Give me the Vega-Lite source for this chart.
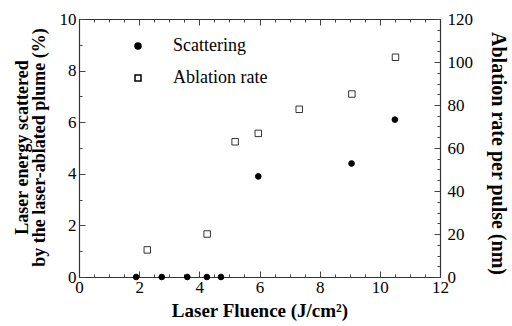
{
  "$schema": "https://vega.github.io/schema/vega-lite/v6.json",
  "width": 361,
  "height": 258,
  "autosize": {"type": "none"},
  "padding": {"left": 79, "top": 19, "right": 72, "bottom": 49},
  "background": "white",
  "config": {
    "view": {"stroke": null},
    "font": "Times New Roman",
    "axis": {
      "domainColor": "#333",
      "domainWidth": 1.2,
      "tickColor": "#444",
      "tickWidth": 1,
      "grid": false,
      "labelFont": "Times New Roman",
      "labelFontSize": 17,
      "labelColor": "black",
      "titleFont": "Times New Roman",
      "titleFontSize": 18,
      "titleFontWeight": "bold",
      "titleColor": "black"
    },
    "legend": {
      "labelFont": "Times New Roman"
    }
  },
  "datasets": {
    "scattering": [
      {"fluence": 1.9, "scatter": 0},
      {"fluence": 2.75, "scatter": 0},
      {"fluence": 3.6, "scatter": 0},
      {"fluence": 4.25, "scatter": 0},
      {"fluence": 4.72, "scatter": 0},
      {"fluence": 5.96, "scatter": 3.9},
      {"fluence": 9.06, "scatter": 4.4},
      {"fluence": 10.5, "scatter": 6.1}
    ],
    "ablation": [
      {"fluence": 2.27, "rate": 12.6},
      {"fluence": 4.26, "rate": 20},
      {"fluence": 5.19, "rate": 62.9},
      {"fluence": 5.96, "rate": 66.8},
      {"fluence": 7.32, "rate": 78},
      {"fluence": 9.07, "rate": 85.1},
      {"fluence": 10.52, "rate": 102.2}
    ]
  },
  "layer": [
    {
      "data": {"name": "scattering"},
      "mark": {"type": "point", "filled": true, "size": 32, "stroke": "black", "strokeWidth": 1, "opacity": 1},
      "encoding": {
        "x": {
          "field": "fluence", "type": "quantitative",
          "scale": {"domain": [0, 12], "nice": false, "zero": false},
          "axis": {
            "orient": "bottom",
            "title": "Laser  Fluence  (J/cm²)",
            "titleFontSize": 19,
            "values": [0,0.5,1,1.5,2,2.5,3,3.5,4,4.5,5,5.5,6,6.5,7,7.5,8,8.5,9,9.5,10,10.5,11,11.5,12],
            "labelExpr": "datum.value % 2 === 0 ? format(datum.value, 'd') : ''",
            "tickSize": {"condition": {"test": "datum.value % 2 === 0", "value": -6}, "value": -3},
            "labelPadding": 8,
            "labelFlush": false,
            "labelOverlap": false,
            "titlePadding": 3
          }
        },
        "y": {
          "field": "scatter", "type": "quantitative",
          "scale": {"domain": [0, 10], "nice": false},
          "axis": {
            "orient": "left",
            "title": ["Laser energy scattered", "by the laser-ablated plume (%)"],
            "values": [0,1,2,3,4,5,6,7,8,9,10],
            "labelExpr": "datum.value % 2 === 0 ? format(datum.value, 'd') : ''",
            "tickSize": {"condition": {"test": "datum.value % 2 === 0", "value": -6}, "value": -3},
            "labelPadding": 9,
            "labelOverlap": false,
            "titleAngle": -90,
            "titleBaseline": "top",
            "titleAlign": "center",
            "titleX": -66,
            "titleY": 128,
            "titleLineHeight": 17
          }
        },
        "shape": {
          "datum": "Scattering", "type": "nominal",
          "scale": {"domain": ["Scattering", "Ablation rate"], "range": ["circle", "square"]},
          "legend": {
            "orient": "none", "legendX": 50, "legendY": 18,
            "title": null, "padding": 0,
            "labelFont": "Times New Roman", "labelFontSize": 18, "labelColor": "black",
            "labelOffset": 26, "rowPadding": 14,
            "symbolSize": 36,
            "encode": {"symbols": {"update": {"stroke": {"value": "black"}, "strokeWidth": {"value": 1}}}}
          }
        },
        "fill": {
          "datum": "Scattering", "type": "nominal",
          "scale": {"domain": ["Scattering", "Ablation rate"], "range": ["black", "white"]},
          "legend": {
            "orient": "none", "legendX": 50, "legendY": 18,
            "title": null, "padding": 0,
            "labelFont": "Times New Roman", "labelFontSize": 18, "labelColor": "black",
            "labelOffset": 26, "rowPadding": 14,
            "symbolSize": 36,
            "encode": {"symbols": {"update": {"stroke": {"value": "black"}, "strokeWidth": {"value": 1}}}}
          }
        }
      }
    },
    {
      "data": {"name": "ablation"},
      "mark": {"type": "point", "filled": true, "size": 42, "stroke": "#333", "strokeWidth": 1, "opacity": 1},
      "encoding": {
        "x": {
          "field": "fluence", "type": "quantitative",
          "axis": {
            "orient": "top",
            "title": null,
            "labels": false,
            "values": [0,0.5,1,1.5,2,2.5,3,3.5,4,4.5,5,5.5,6,6.5,7,7.5,8,8.5,9,9.5,10,10.5,11,11.5,12],
            "tickSize": {"condition": {"test": "datum.value % 2 === 0", "value": -6}, "value": -3}
          }
        },
        "y": {
          "field": "rate", "type": "quantitative",
          "scale": {"domain": [0, 120], "nice": false},
          "axis": {
            "orient": "right",
            "title": "Ablation  rate  per  pulse  (nm)",
            "titleFontSize": 20,
            "values": [0,5,10,15,20,25,30,35,40,45,50,55,60,65,70,75,80,85,90,95,100,105,110,115,120],
            "labelExpr": "datum.value % 20 === 0 ? format(datum.value, 'd') : ''",
            "tickSize": {"condition": {"test": "datum.value % 20 === 0", "value": -6}, "value": -3},
            "labelPadding": 13,
            "labelOverlap": false,
            "titleAngle": 90,
            "titleBaseline": "middle",
            "titleAlign": "center",
            "titleX": 57,
            "titleY": 134
          }
        },
        "shape": {"datum": "Ablation rate", "type": "nominal"},
        "fill": {"datum": "Ablation rate", "type": "nominal"}
      }
    }
  ],
  "resolve": {"scale": {"y": "independent"}, "axis": {"x": "independent"}}
}
